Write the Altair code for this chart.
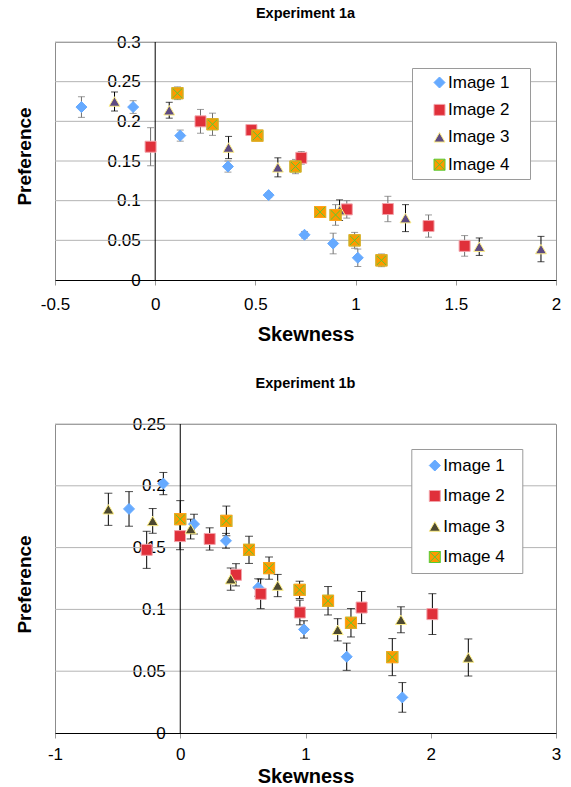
import altair as alt
import pandas as pd

SERIES = ["Image 1", "Image 2", "Image 3", "Image 4"]

# ---------------- Experiment 1a ----------------
a_img1_x = [-0.368, -0.110, 0.125, 0.363, 0.566, 0.745, 0.888, 1.011]
a_img1_y = [0.218, 0.218, 0.182, 0.143, 0.107, 0.057, 0.046, 0.028]
a_img1_e = [0.013, 0.008, 0.007, 0.007, 0.003, 0.004, 0.013, 0.011]

a_img2_x = [-0.023, 0.226, 0.480, 0.729, 0.956, 1.161, 1.364, 1.544]
a_img2_y = [0.168, 0.200, 0.189, 0.154, 0.089, 0.0895, 0.068, 0.043]
a_img2_e = [0.024, 0.015, 0.003, 0.008, 0.011, 0.016, 0.014, 0.013]

a_img3_x = [-0.203, 0.070, 0.366, 0.612, 0.920, 1.249, 1.617, 1.925]
a_img3_y = [0.225, 0.214, 0.167, 0.142, 0.088, 0.078, 0.042, 0.039]
a_img3_e = [0.012, 0.010, 0.014, 0.012, 0.013, 0.017, 0.011, 0.016]

a_img4_x = [0.111, 0.286, 0.510, 0.700, 0.823, 0.900, 0.995, 1.129]
a_img4_y = [0.2354, 0.1963, 0.182, 0.143, 0.0857, 0.082, 0.050, 0.0248]
a_img4_e = [0.008, 0.014, 0.003, 0.009, 0.003, 0.013, 0.010, 0.008]

# ---------------- Experiment 1b ----------------
b_img1_x = [-0.409, -0.135, 0.110, 0.365, 0.623, 0.988, 1.329, 1.773]
b_img1_y = [0.1813, 0.2018, 0.169, 0.1555, 0.1177, 0.0838, 0.0617, 0.0288]
b_img1_e = [0.014, 0.009, 0.008, 0.006, 0.007, 0.007, 0.011, 0.012]

b_img2_x = [-0.268, -0.002, 0.235, 0.445, 0.642, 0.955, 1.448, 2.013]
b_img2_y = [0.1482, 0.1593, 0.157, 0.128, 0.1126, 0.0975, 0.1015, 0.0962]
b_img2_e = [0.015, 0.011, 0.009, 0.009, 0.012, 0.010, 0.013, 0.0165]

b_img3_x = [-0.574, -0.220, 0.083, 0.403, 0.778, 1.257, 1.762, 2.300]
b_img3_y = [0.181, 0.1716, 0.165, 0.1245, 0.1193, 0.0835, 0.0916, 0.0611]
b_img3_e = [0.013, 0.010, 0.008, 0.009, 0.009, 0.009, 0.0105, 0.015]

b_img4_x = [0.000, 0.368, 0.549, 0.709, 0.953, 1.180, 1.363, 1.693]
b_img4_y = [0.173, 0.1716, 0.1482, 0.1334, 0.1158, 0.107, 0.0892, 0.0614]
b_img4_e = [0.015, 0.012, 0.011, 0.009, 0.007, 0.0115, 0.0115, 0.015]

a_xticks = [-0.5, 0, 0.5, 1, 1.5, 2]
a_yticks = [0, 0.05, 0.1, 0.15, 0.2, 0.25, 0.3]
b_xticks = [-1, 0, 1, 2, 3]
b_yticks = [0, 0.05, 0.1, 0.15, 0.2, 0.25]

X4_PATH = "M-1,-1H1V1H-1Z M-1,-1L1,1 M1,-1L-1,1"
SHAPES = ["diamond", "square", "triangle-up", X4_PATH]
STROKES = ["#66aaff", "#f2a3aa", "#fff08a", "#55cc33"]

FONT = "Liberation Sans"


def build_df(xs, ys, es):
    rows = []
    for s, x, y, e in zip(SERIES, xs, ys, es):
        for xi, yi, ei in zip(x, y, e):
            rows.append(dict(series=s, x=xi, y=yi, lo=yi - ei, hi=yi + ei))
    return pd.DataFrame(rows)


def panel(df, xdom, xticks, ydom, yticks, w, h, fills, title, title_off,
          y_off, title_x, title_y, leg, err_cols, cap, x_lab_pad, x_title_pad):
    xaxis = alt.Axis(values=xticks, title="Skewness", titleFontSize=20,
                     titleFontWeight="bold", titleColor="black",
                     labelFontSize=17, labelColor="black",
                     labelExpr="'' + datum.value", labelFlush=False,
                     domainColor="black", domainWidth=1, tickColor="#999999",
                     tickSize=5, labelPadding=x_lab_pad, titlePadding=x_title_pad,
                     grid=False)
    yaxis = alt.Axis(values=yticks, title="Preference", titleFontSize=19,
                     titleFontWeight="bold", titleColor="black", titleAngle=270,
                     titleBaseline="alphabetic", titleAlign="center",
                     titleX=title_x, titleY=title_y,
                     labelFontSize=17, labelColor="black",
                     labelExpr="'' + datum.value", labelPadding=15,
                     offset=y_off, domain=False, ticks=False, grid=False)
    xs = alt.Scale(domain=xdom, nice=False, zero=False)
    ys = alt.Scale(domain=ydom, nice=False, zero=False)

    def X(f):
        return alt.X(f"{f}:Q", scale=xs, axis=xaxis)

    def Y(f):
        return alt.Y(f"{f}:Q", scale=ys, axis=yaxis)

    grid_df = pd.DataFrame({"y": [v for v in yticks if v != 0]})
    zero_df = pd.DataFrame({"x": [0]})

    grid = alt.Chart(grid_df).mark_rule(color="#b4b4b4", strokeWidth=1).encode(y=Y("y"))
    zero = alt.Chart(zero_df).mark_rule(color="black", strokeWidth=1).encode(x=X("x"))

    ecolor = alt.condition("datum.series == 'Image 3'", alt.value(err_cols[1]),
                           alt.value(err_cols[0]))
    base = alt.Chart(df)
    erule = base.mark_rule(strokeWidth=1).encode(x=X("x"), y=Y("lo"), y2="hi", color=ecolor)
    cap_lo = base.mark_tick(orient="horizontal", size=cap, thickness=1).encode(
        x=X("x"), y=Y("lo"), color=ecolor)
    cap_hi = base.mark_tick(orient="horizontal", size=cap, thickness=1).encode(
        x=X("x"), y=Y("hi"), color=ecolor)

    legend = alt.Legend(title="\u00a0", titleOrient="left", titleFontSize=1,
                        titlePadding=leg["tpad"], orient="none",
                        legendX=leg["x"], legendY=leg["y"], padding=leg["pad"],
                        rowPadding=leg["row"], labelFontSize=17, labelColor="black",
                        labelOffset=0, symbolSize=121, symbolStrokeWidth=1,
                        strokeColor="#9a9a9a", fillColor="white",
                        labelExpr="datum.label + '" + "\u00a0" * leg["nb"] + "\u200b'")
    pts = base.mark_point(filled=True, size=121, strokeWidth=1, opacity=1).encode(
        x=X("x"), y=Y("y"),
        color=alt.Color("series:N", scale=alt.Scale(domain=SERIES, range=fills), legend=legend),
        shape=alt.Shape("series:N", scale=alt.Scale(domain=SERIES, range=SHAPES), legend=legend),
        stroke=alt.Stroke("series:N", scale=alt.Scale(domain=SERIES, range=STROKES), legend=legend),
        order=alt.Order("series:N"),
    )
    # orange rim over the Image 4 squares (the green cross stays inside)
    rim = base.transform_filter("datum.series == 'Image 4'").mark_point(
        shape="square", filled=False, size=121, strokeWidth=1.1, color="#ffa21a", opacity=1
    ).encode(x=X("x"), y=Y("y"))
    return alt.layer(grid, zero, erule, cap_lo, cap_hi, pts, rim).properties(
        width=w, height=h,
        title=alt.Title(title, fontSize=14.5, fontWeight="bold", color="black",
                        frame="group", baseline="alphabetic", offset=title_off),
    )


df_a = build_df([a_img1_x, a_img2_x, a_img3_x, a_img4_x],
                [a_img1_y, a_img2_y, a_img3_y, a_img4_y],
                [a_img1_e, a_img2_e, a_img3_e, a_img4_e])
df_b = build_df([b_img1_x, b_img2_x, b_img3_x, b_img4_x],
                [b_img1_y, b_img2_y, b_img3_y, b_img4_y],
                [b_img1_e, b_img2_e, b_img3_e, b_img4_e])

top = panel(df_a, [-0.5, 2], a_xticks, [0, 0.3], a_yticks, 501, 238,
            ["#66aaff", "#e0303a", "#5e4b82", "#ff9900"], "Experiment 1a", 1,
            -100.2, -125.2, 114,
            dict(x=357, y=26, pad=6, row=9.4, tpad=13, nb=3),
            ["#707070", "#000000"], 7, 11, 12)
bottom = panel(df_b, [-1, 3], b_xticks, [0, 0.25], b_yticks, 501, 309,
               ["#66aaff", "#e0303a", "#4d4930", "#ff9900"], "Experiment 1b", 13,
               -125.25, -150.25, 160,
               dict(x=356.3, y=25, pad=8, row=12.5, tpad=7, nb=2),
               ["#000000", "#000000"], 8, 8.5, 3.5)

chart = alt.vconcat(top, bottom, spacing=30).resolve_scale(
    x="independent", y="independent", color="independent",
    shape="independent", stroke="independent"
).resolve_legend(color="independent", shape="independent", stroke="independent").configure(
    font=FONT, padding={"left": 14, "top": 5, "right": 5, "bottom": 0}
).configure_view(stroke="#8c8c8c", strokeWidth=1)

chart.save("out.html", embed_options={"renderer": "svg", "actions": False})
